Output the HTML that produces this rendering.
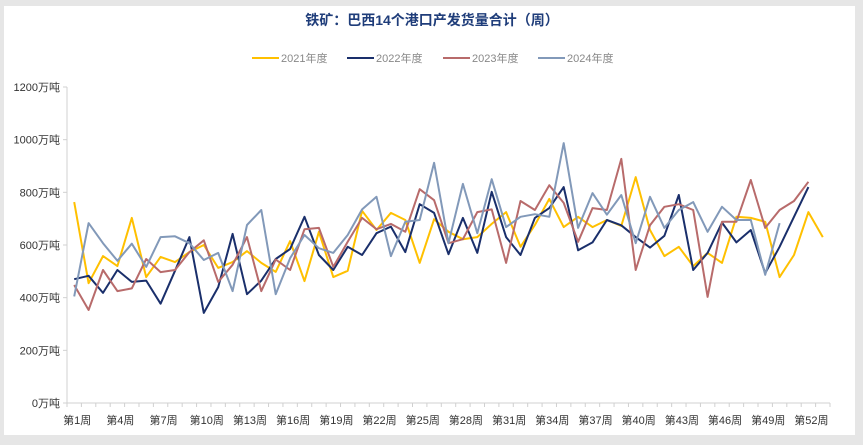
<!DOCTYPE html>
<html><head><meta charset="utf-8"><style>
html,body{margin:0;padding:0;background:#e6e6e6;}
#wrap{position:absolute;left:4px;top:6px;width:851px;height:429px;background:#fff;}
svg{position:absolute;left:0;top:0;font-family:"Liberation Sans","Noto Sans CJK SC",sans-serif;}
</style></head><body>
<div id="wrap"></div>
<svg id="chart" width="863" height="445">
<text x="432" y="25" text-anchor="middle" font-size="14" font-weight="bold" fill="#1f3d7a">铁矿：巴西14个港口产发货量合计（周）</text>
<g id="legend"></g>
<g id="axes"></g>
<g id="series"></g>
</svg>
<script>
const years = ["2021年度","2022年度","2023年度","2024年度"];
const colors = ["#ffc000","#1a2f6b","#b86b6b","#8299b9"];
const yTicks = [0,200,400,600,800,1000,1200];
const s2021 = [763,455,558,520,703,478,555,535,573,600,513,535,577,532,498,615,463,650,478,502,730,657,722,695,532,698,650,622,630,680,725,593,676,775,668,707,668,695,672,858,657,558,593,520,570,532,707,703,688,478,562,725,630];
const s2022 = [470,483,418,505,460,465,377,502,630,342,440,642,413,465,547,585,707,562,505,593,562,645,670,573,755,722,565,703,570,802,630,562,703,740,820,580,610,695,675,630,590,635,790,505,570,685,610,657,493,593,707,820];
const s2023 = [448,353,505,425,435,547,497,505,573,618,460,525,630,425,545,505,660,665,517,612,703,660,680,650,812,770,607,622,725,735,532,767,733,827,760,612,740,733,927,505,675,745,755,733,403,688,688,847,665,733,767,840];
const s2024 = [405,683,607,540,605,517,630,633,607,543,570,425,676,733,413,550,638,588,570,638,735,783,558,688,695,912,607,832,645,850,668,707,717,707,987,665,797,715,790,607,783,665,733,763,650,745,695,695,487,683];
const seriesList = [s2021,s2022,s2023,s2024];
const weekLabels = ["第1周","第4周","第7周","第10周","第13周","第16周","第19周","第22周","第25周","第28周","第31周","第34周","第37周","第40周","第43周","第46周","第49周","第52周"];
const labelWeeks = [1,4,7,10,13,16,19,22,25,28,31,34,37,40,43,46,49,52];

const NS="http://www.w3.org/2000/svg";
const L=67, R=830, T=87, B=403, N=53, YMAX=1200;
const bw=(R-L)/N;
function xs(w){return L+(w-0.5)*bw;}
function ys(v){return B-(v/YMAX)*(B-T);}
function mk(tag,attrs,parent){const e=document.createElementNS(NS,tag);for(const k in attrs)e.setAttribute(k,attrs[k]);parent.appendChild(e);return e;}
const axes=document.getElementById('axes');
let yl=mk('line',{x1:L,y1:T,x2:L,y2:B,stroke:'#d0d0d0','stroke-width':1},axes);


let xl=mk('line',{x1:L,y1:B,x2:R,y2:B,stroke:'#d0d0d0','stroke-width':1},axes);


yTicks.forEach(v=>{
  const y=ys(v);
  const tk=mk('line',{x1:L-4,y1:y,x2:L,y2:y,stroke:'#d0d0d0'},axes);
  
  
  const t=mk('text',{x:L-7,y:y+4,'text-anchor':'end','font-size':11,fill:'#333'},axes);
  t.textContent=v+'万吨';
  
  
});
for(let i=0;i<=N;i++){
  const x=L+i*bw;
  const tk=mk('line',{x1:x,y1:B,x2:x,y2:B+4,stroke:'#d0d0d0'},axes);
  
  
}
weekLabels.forEach((lab,i)=>{
  const t=mk('text',{x:xs(labelWeeks[i])+3,y:424,'text-anchor':'middle','font-size':11,fill:'#333'},axes);
  t.textContent=lab;
  
  
});
const sg=document.getElementById('series');
seriesList.forEach((s,si)=>{
  const pts=s.map((v,i)=>xs(i+1).toFixed(1)+','+ys(v).toFixed(1)).join(' ');
  const p=mk('polyline',{points:pts,fill:'none',stroke:colors[si],'stroke-width':2,'stroke-linejoin':'round'},sg);
  
  
});
const lg=document.getElementById('legend');
const lx=[252,347,443,538];
years.forEach((y,i)=>{
  const l=mk('line',{x1:lx[i],y1:58,x2:lx[i]+27,y2:58,stroke:colors[i],'stroke-width':2},lg);
  
  
  const t=mk('text',{x:lx[i]+29,y:62,'font-size':11,fill:'#888'},lg);
  t.textContent=y;
  
  
});
</script>
</body></html>
